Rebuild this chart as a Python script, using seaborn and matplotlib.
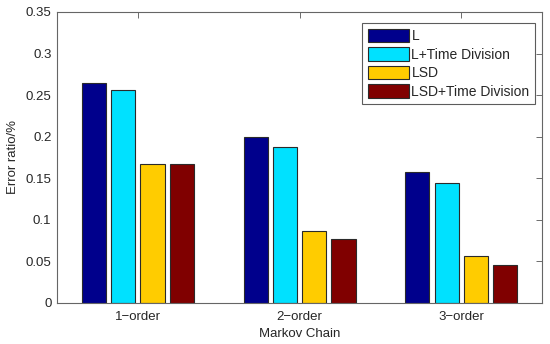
import numpy as np
import pandas as pd
import matplotlib
matplotlib.use("Agg")
import matplotlib.pyplot as plt
import seaborn as sns

# ── Data ─────────────────────────────────────────────────────────────────────
orders  = ["1\u2212order", "2\u2212order", "3\u2212order"]
methods = ["L", "L+Time Division", "LSD", "LSD+Time Division"]
err_L      = [0.265, 0.200, 0.157]
err_L_td   = [0.256, 0.188, 0.144]
err_LSD    = [0.167, 0.086, 0.056]
err_LSD_td = [0.167, 0.077, 0.046]
colors = ["#00008C", "#00E1FF", "#FFCC00", "#800000"]

df = pd.DataFrame({
    "order": orders * 4,
    "method": np.repeat(methods, len(orders)),
    "error": err_L + err_L_td + err_LSD + err_LSD_td,
})

sns.set_style("white")
plt.rcParams["font.family"] = ["Liberation Sans", "DejaVu Sans"]

fig = plt.figure(figsize=(5.5, 3.44), dpi=100)
ax = fig.add_axes([0.1036, 0.1192, 0.882, 0.846])

sns.barplot(data=df, x="order", y="error", hue="method", palette=colors,
            width=0.725, gap=0.18, edgecolor="#2a2a2a", linewidth=0.8,
            saturation=1, ax=ax)

ax.set_xlim(-0.5, 2.5)
ax.set_ylim(0, 0.35)
ax.set_yticks(np.arange(0, 0.351, 0.05))
ax.set_yticklabels(["0", "0.05", "0.1", "0.15", "0.2", "0.25", "0.3", "0.35"])
ax.set_xlabel("Markov Chain", fontsize=9.5, labelpad=4)
ax.set_ylabel("Error ratio/%", fontsize=9.5, labelpad=5)
ax.tick_params(direction="in", length=4, width=0.6, color="#555555",
               labelsize=9.5, top=True, right=True, pad=4)
ax.tick_params(axis="x", pad=5.5)
for s in ax.spines.values():
    s.set_visible(True)
    s.set_color("#666666")
    s.set_linewidth(0.8)

leg = ax.legend(loc="upper right", bbox_to_anchor=(0.9856, 0.962),
                fontsize=10, frameon=True, fancybox=False,
                edgecolor="#333333", handlelength=3.0, handleheight=1.15,
                labelspacing=0.28, borderpad=0.4, handletextpad=0.15,
                borderaxespad=0)
leg.get_frame().set_linewidth(0.8)

plt.savefig("out.png", dpi=100)
plt.close()
